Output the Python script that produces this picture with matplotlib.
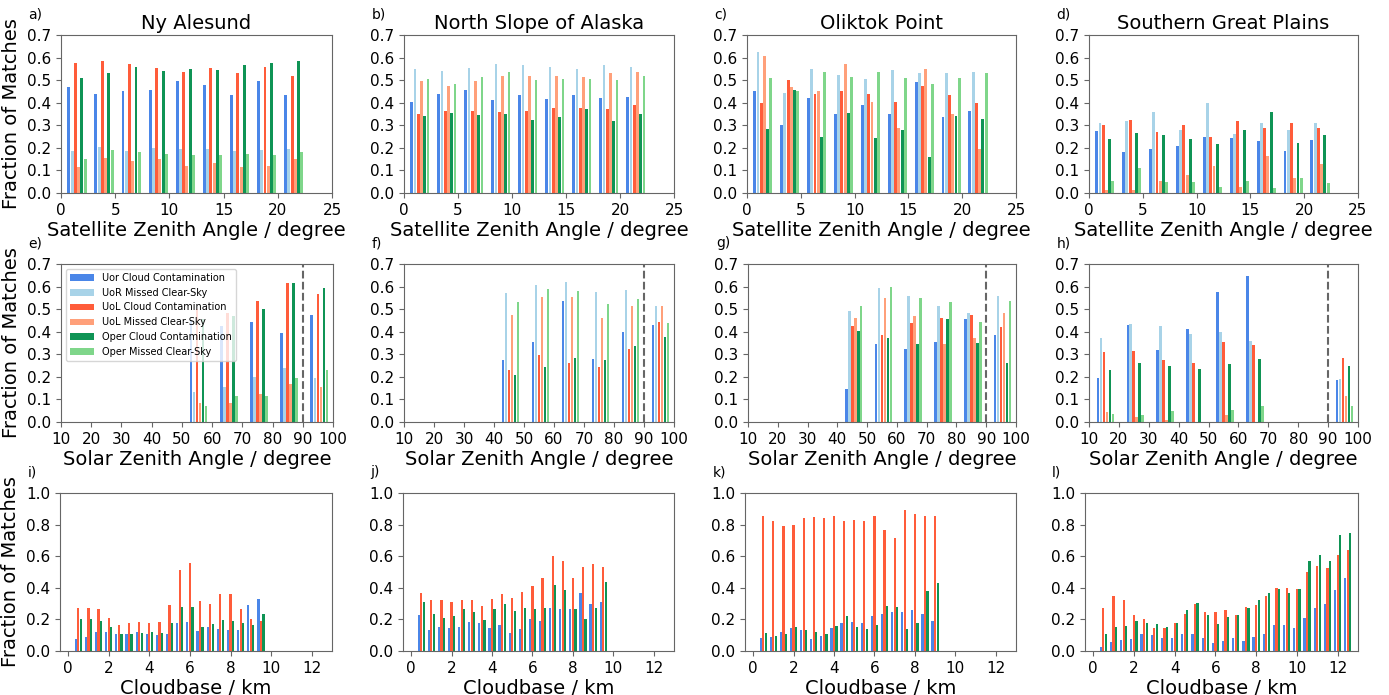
import numpy as np
import matplotlib
matplotlib.use("Agg")
import matplotlib.pyplot as plt

# ============================================================
# DATA
# ============================================================

SERIES = [
    "Uor Cloud Contamination",
    "UoR Missed Clear-Sky",
    "UoL Cloud Contamination",
    "UoL Missed Clear-Sky",
    "Oper Cloud Contamination",
    "Oper Missed Clear-Sky",
]
COLORS = ["#4a86e8", "#a8d3e8", "#ff5c3a", "#ffa07a", "#0f9455", "#7fd68a"]

SITES = ["Ny Alesund", "North Slope of Alaska", "Oliktok Point", "Southern Great Plains"]

# satellite zenith angle bins (lower edge, degree)
SAT_BINS = [0, 2.5, 5, 7.5, 10, 12.5, 15, 17.5, 20]

NYA_SAT = [
    [0.47, 0.44, 0.45, 0.455, 0.495, 0.48, 0.435, 0.495, 0.435],
    [0.185, 0.205, 0.185, 0.20, 0.195, 0.195, 0.185, 0.19, 0.195],
    [0.575, 0.585, 0.57, 0.555, 0.535, 0.555, 0.53, 0.56, 0.52],
    [0.115, 0.155, 0.14, 0.15, 0.12, 0.135, 0.115, 0.12, 0.15],
    [0.51, 0.53, 0.56, 0.54, 0.55, 0.545, 0.565, 0.575, 0.585],
    [0.15, 0.19, 0.18, 0.175, 0.17, 0.17, 0.175, 0.17, 0.18],
]
NSA_SAT = [
    [0.405, 0.44, 0.455, 0.41, 0.435, 0.415, 0.435, 0.42, 0.425],
    [0.55, 0.54, 0.555, 0.57, 0.565, 0.56, 0.55, 0.565, 0.56],
    [0.35, 0.365, 0.365, 0.36, 0.365, 0.375, 0.375, 0.37, 0.39],
    [0.495, 0.475, 0.495, 0.52, 0.52, 0.52, 0.515, 0.53, 0.535],
    [0.34, 0.355, 0.345, 0.35, 0.325, 0.335, 0.37, 0.32, 0.35],
    [0.505, 0.485, 0.515, 0.535, 0.50, 0.505, 0.505, 0.50, 0.52],
]
OLI_SAT = [
    [0.45, 0.30, 0.42, 0.35, 0.39, 0.35, 0.49, 0.335, 0.365],
    [0.625, 0.445, 0.55, 0.525, 0.505, 0.545, 0.53, 0.53, 0.535],
    [0.40, 0.50, 0.44, 0.45, 0.44, 0.405, 0.475, 0.435, 0.40],
    [0.605, 0.47, 0.45, 0.57, 0.405, 0.29, 0.55, 0.35, 0.195],
    [0.285, 0.455, 0.25, 0.355, 0.245, 0.28, 0.16, 0.34, 0.33],
    [0.51, 0.45, 0.535, 0.515, 0.535, 0.51, 0.485, 0.51, 0.53],
]
SGP_SAT = [
    [0.275, 0.18, 0.195, 0.21, 0.25, 0.245, 0.23, 0.185, 0.235],
    [0.31, 0.32, 0.36, 0.28, 0.40, 0.26, 0.31, 0.28, 0.31],
    [0.30, 0.325, 0.27, 0.30, 0.25, 0.32, 0.29, 0.31, 0.29],
    [0.015, 0.015, 0.055, 0.08, 0.12, 0.025, 0.165, 0.065, 0.13],
    [0.24, 0.265, 0.255, 0.24, 0.215, 0.28, 0.36, 0.22, 0.255],
    [0.055, 0.11, 0.05, 0.05, 0.025, 0.055, 0.02, 0.065, 0.045],
]

# solar zenith angle bins (lower edge, degree)
SOL_BINS = [10, 20, 30, 40, 50, 60, 70, 80, 90]
nan = np.nan

NYA_SOL = [
    [nan, nan, nan, nan, 0.45, 0.425, 0.445, 0.395, 0.475],
    [nan, nan, nan, nan, 0.135, 0.155, 0.20, 0.24, 0.195],
    [nan, nan, nan, nan, 0.50, 0.485, 0.535, 0.615, 0.565],
    [nan, nan, nan, nan, 0.085, 0.085, 0.125, 0.17, 0.155],
    [nan, nan, nan, nan, 0.455, 0.47, 0.50, 0.615, 0.595],
    [nan, nan, nan, nan, 0.07, 0.115, 0.115, 0.195, 0.23],
]
NSA_SOL = [
    [nan, nan, nan, 0.275, 0.355, 0.535, 0.28, 0.40, 0.43],
    [nan, nan, nan, 0.57, 0.605, 0.62, 0.575, 0.585, 0.515],
    [nan, nan, nan, 0.23, 0.295, 0.26, 0.245, 0.325, 0.445],
    [nan, nan, nan, 0.475, 0.555, 0.555, 0.46, 0.515, 0.515],
    [nan, nan, nan, 0.21, 0.245, 0.285, 0.275, 0.335, 0.375],
    [nan, nan, nan, 0.53, 0.59, 0.58, 0.525, 0.545, 0.44],
]
OLI_SOL = [
    [nan, nan, nan, 0.145, 0.345, 0.325, 0.355, 0.455, 0.385],
    [nan, nan, nan, 0.49, 0.595, 0.56, 0.515, 0.485, 0.56],
    [nan, nan, nan, 0.425, 0.385, 0.44, 0.46, 0.475, 0.42],
    [nan, nan, nan, 0.46, 0.55, 0.47, 0.345, 0.37, 0.485],
    [nan, nan, nan, 0.405, 0.37, 0.345, 0.455, 0.35, 0.26],
    [nan, nan, nan, 0.515, 0.60, 0.55, 0.53, 0.445, 0.535],
]
SGP_SOL = [
    [0.195, 0.43, 0.32, 0.41, 0.575, 0.645, nan, nan, 0.185],
    [0.37, 0.435, 0.425, 0.39, 0.40, 0.36, nan, nan, 0.19],
    [0.31, 0.315, 0.275, 0.26, 0.355, 0.34, nan, nan, 0.285],
    [0.045, 0.02, 0.01, 0.0, 0.03, 0.0, nan, nan, 0.115],
    [0.23, 0.26, 0.25, 0.235, 0.255, 0.28, nan, nan, 0.25],
    [0.035, 0.03, 0.05, 0.0, 0.055, 0.07, nan, nan, 0.07],
]

# cloudbase bins (km) -- only the three cloud contamination series
NYA_CB_X = [0.5 * k for k in range(1, 20)]
NYA_CB = [
    [0.075, 0.09, 0.12, 0.12, 0.105, 0.11, 0.12, 0.105, 0.10, 0.105,
     0.175, 0.185, 0.125, 0.15, 0.14, 0.135, 0.135, 0.29, 0.33],
    [0.275, 0.275, 0.265, 0.21, 0.165, 0.175, 0.185, 0.18, 0.185, 0.29,
     0.515, 0.56, 0.315, 0.30, 0.36, 0.36, 0.265, 0.205, 0.19],
    [0.20, 0.205, 0.19, 0.15, 0.11, 0.105, 0.115, 0.12, 0.115, 0.175,
     0.28, 0.28, 0.155, 0.17, 0.195, 0.19, 0.175, 0.165, 0.235],
]
NSA_CB_X = [0.5 * k for k in range(1, 20)]
NSA_CB = [
    [0.225, 0.135, 0.15, 0.145, 0.155, 0.185, 0.175, 0.145, 0.165, 0.115,
     0.14, 0.205, 0.19, 0.275, 0.265, 0.265, 0.365, 0.295, 0.31],
    [0.37, 0.325, 0.325, 0.31, 0.325, 0.325, 0.285, 0.33, 0.36, 0.335,
     0.375, 0.41, 0.465, 0.60, 0.57, 0.465, 0.53, 0.55, 0.53],
    [0.31, 0.235, 0.21, 0.22, 0.265, 0.25, 0.195, 0.265, 0.30, 0.255,
     0.27, 0.265, 0.27, 0.42, 0.385, 0.265, 0.20, 0.275, 0.435],
]
OLI_CB_X = [0.5 * k for k in range(1, 19)]
OLI_CB = [
    [0.08, 0.09, 0.12, 0.145, 0.13, 0.075, 0.095, 0.145, 0.18, 0.185,
     0.175, 0.22, 0.235, 0.25, 0.25, 0.26, 0.235, 0.19],
    [0.855, 0.825, 0.79, 0.795, 0.84, 0.85, 0.84, 0.855, 0.82, 0.83,
     0.825, 0.855, 0.765, 0.715, 0.89, 0.87, 0.855, 0.855],
    [0.115, 0.095, 0.105, 0.155, 0.13, 0.12, 0.105, 0.16, 0.22, 0.155,
     0.14, 0.165, 0.285, 0.28, 0.14, 0.175, 0.38, 0.43],
]
SGP_CB_X = [0.5 * k for k in range(1, 26)]
SGP_CB = [
    [0.025, 0.06, 0.07, 0.075, 0.105, 0.10, 0.08, 0.08, 0.11, 0.11,
     0.08, 0.05, 0.065, 0.085, 0.065, 0.09, 0.11, 0.165, 0.165, 0.145,
     0.21, 0.27, 0.30, 0.385, 0.465],
    [0.27, 0.345, 0.325, 0.225, 0.20, 0.145, 0.145, 0.175, 0.235, 0.30,
     0.25, 0.245, 0.26, 0.225, 0.28, 0.29, 0.345, 0.40, 0.40, 0.39,
     0.50, 0.54, 0.525, 0.61, 0.64],
    [0.11, 0.155, 0.16, 0.19, 0.175, 0.17, 0.15, 0.18, 0.26, 0.305,
     0.23, 0.17, 0.215, 0.225, 0.27, 0.32, 0.365, 0.39, 0.37, 0.39,
     0.57, 0.605, 0.57, 0.735, 0.75],
]

SAT_DATA = [NYA_SAT, NSA_SAT, OLI_SAT, SGP_SAT]
SOL_DATA = [NYA_SOL, NSA_SOL, OLI_SOL, SGP_SOL]
CB_DATA = [(NYA_CB_X, NYA_CB), (NSA_CB_X, NSA_CB), (OLI_CB_X, OLI_CB), (SGP_CB_X, SGP_CB)]

# ============================================================
# LAYOUT (pixel boxes: left, right, top, bottom)
# ============================================================

W, H = 1389, 695
ROWS = [(35, 193), (264, 422), (493, 651)]
COLS = [
    [(61, 332), (404, 674), (747, 1016), (1089, 1358)],
    [(61, 333), (404, 674), (748, 1016), (1089, 1358)],
    [(60, 332), (403, 674), (745, 1016), (1085, 1358)],
]
LETTERS = "abcdefghijkl"

TICK_FS = 11
LABEL_FS = 14


def add_ax(fig, l, r, t, b):
    return fig.add_axes([l / W, 1 - b / H, (r - l) / W, (b - t) / H])


def style(ax, letter):
    for sp in ax.spines.values():
        sp.set_color("#666666")
    ax.tick_params(labelsize=TICK_FS, color="#666666")
    ax.text(-0.12, 1.13, letter + ")", transform=ax.transAxes,
            fontsize=10, ha="left", va="center")


fig = plt.figure(figsize=(W / 100, H / 100), dpi=100)

# ------------------------------------------------------------
# Row 1: satellite zenith angle
# ------------------------------------------------------------
for c in range(4):
    l, r = COLS[0][c]
    ax = add_ax(fig, l, r, *ROWS[0])
    x0 = np.array(SAT_BINS)
    for s in range(6):
        ax.bar(x0 + 0.72 + s * 0.3, SAT_DATA[c][s], width=0.27,
               color=COLORS[s], label=SERIES[s])
    ax.set_xlim(0, 25)
    ax.set_ylim(0, 0.7)
    ax.set_xticks([0, 5, 10, 15, 20, 25])
    ax.set_yticks(np.arange(0, 0.71, 0.1))
    ax.set_title(SITES[c], fontsize=LABEL_FS, pad=4)
    ax.set_xlabel("Satellite Zenith Angle / degree", fontsize=LABEL_FS, labelpad=2)
    if c == 0:
        ax.set_ylabel("Fraction of Matches", fontsize=LABEL_FS)
    style(ax, LETTERS[c])

# ------------------------------------------------------------
# Row 2: solar zenith angle
# ------------------------------------------------------------
for c in range(4):
    l, r = COLS[1][c]
    ax = add_ax(fig, l, r, *ROWS[1])
    x0 = np.array(SOL_BINS)
    for s in range(6):
        ax.bar(x0 + 3.0 + s * 1.0, SOL_DATA[c][s], width=0.9,
               color=COLORS[s], label=SERIES[s])
    ax.axvline(90, color="#666666", linestyle="--", linewidth=1.5)
    ax.set_xlim(10, 100)
    ax.set_ylim(0, 0.7)
    ax.set_xticks(np.arange(10, 101, 10))
    ax.set_yticks(np.arange(0, 0.71, 0.1))
    ax.set_xlabel("Solar Zenith Angle / degree", fontsize=LABEL_FS, labelpad=2)
    if c == 0:
        ax.set_ylabel("Fraction of Matches", fontsize=LABEL_FS)
        ax.legend(loc="upper left", fontsize=7, handlelength=2.5)
    style(ax, LETTERS[4 + c])

# ------------------------------------------------------------
# Row 3: cloudbase height
# ------------------------------------------------------------
CB_SERIES = [0, 2, 4]
for c in range(4):
    l, r = COLS[2][c]
    ax = add_ax(fig, l, r, *ROWS[2])
    xs, vals = CB_DATA[c]
    xs = np.array(xs)
    for k, s in enumerate(CB_SERIES):
        ax.bar(xs + (k - 1) * 0.125, vals[k], width=0.11,
               color=COLORS[s], label=SERIES[s])
    ax.set_xlim(-0.4, 13)
    ax.set_ylim(0, 1.0)
    ax.set_xticks(np.arange(0, 13, 2))
    ax.set_yticks(np.arange(0, 1.01, 0.2))
    ax.set_xlabel("Cloudbase / km", fontsize=LABEL_FS, labelpad=2)
    if c == 0:
        ax.set_ylabel("Fraction of Matches", fontsize=LABEL_FS)
    style(ax, LETTERS[8 + c])

fig.savefig("out.png", dpi=100)
